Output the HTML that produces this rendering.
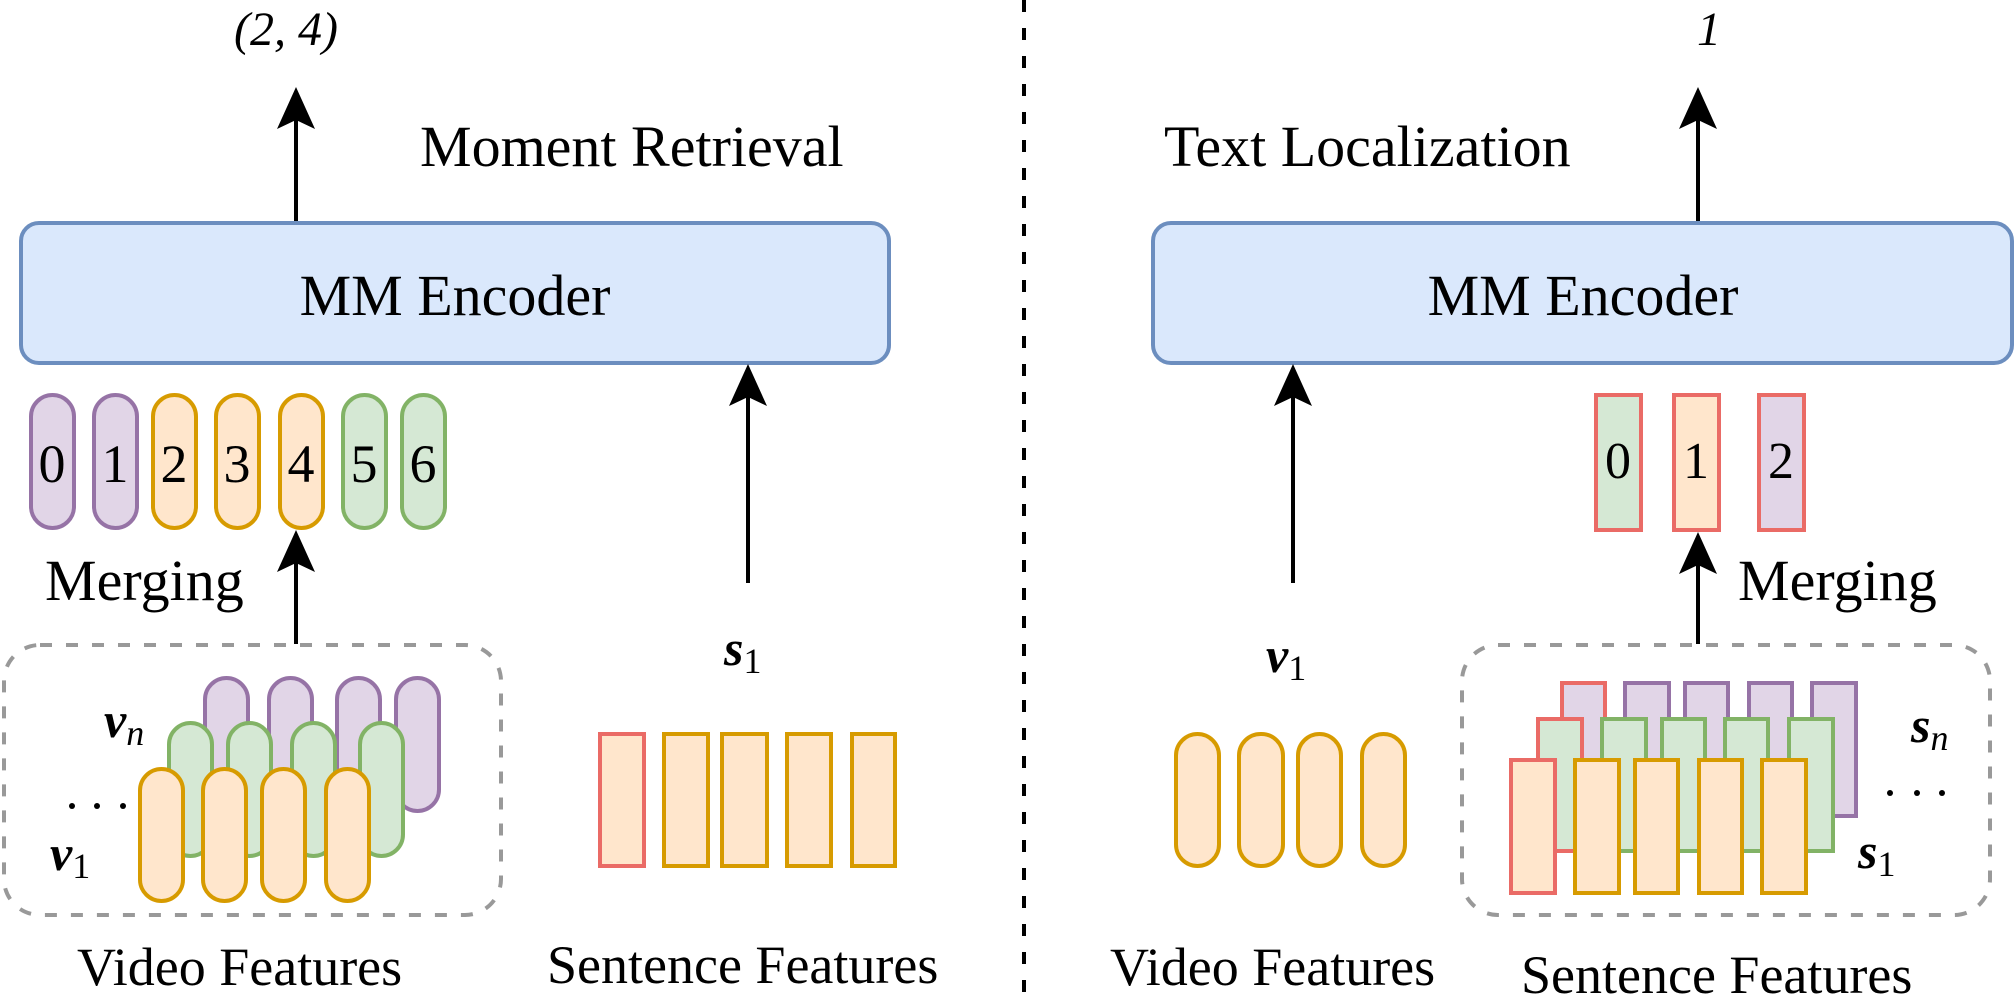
<!DOCTYPE html>
<html><head><meta charset="utf-8"><style>
html,body{margin:0;padding:0;background:#fff;}
svg{display:block;}
text{font-family:"Liberation Serif",serif;fill:#000;}
</style></head><body>
<svg width="2016" height="995" viewBox="0 0 2016 995" xmlns="http://www.w3.org/2000/svg">
<defs>
<g id="ah"><path d="M0,0 L-19,42 L0,33 L19,42 Z" fill="#000"/></g>
</defs>
<!-- divider -->
<line x1="1024" y1="0" x2="1024" y2="995" stroke="#000" stroke-width="4" stroke-dasharray="12,16"/>

<!-- LEFT -->
<text x="234" y="45" font-size="48" font-style="italic">(2, 4)</text>
<line x1="296" y1="222" x2="296" y2="115" stroke="#000" stroke-width="4"/>
<use href="#ah" x="296" y="87"/>
<text x="420" y="166" font-size="58">Moment Retrieval</text>
<rect x="21" y="223" width="868" height="140" rx="18" fill="#dae8fc" stroke="#6c8ebf" stroke-width="4"/>
<text x="455" y="315" font-size="58" text-anchor="middle">MM Encoder</text>

<g stroke-width="4">
<rect x="31" y="395" width="43" height="133" rx="21.5" fill="#e1d5e7" stroke="#9673a6"/>
<rect x="94" y="395" width="43" height="133" rx="21.5" fill="#e1d5e7" stroke="#9673a6"/>
<rect x="153" y="395" width="43" height="133" rx="21.5" fill="#ffe6cc" stroke="#d79b00"/>
<rect x="216" y="395" width="43" height="133" rx="21.5" fill="#ffe6cc" stroke="#d79b00"/>
<rect x="280" y="395" width="43" height="133" rx="21.5" fill="#ffe6cc" stroke="#d79b00"/>
<rect x="343" y="395" width="43" height="133" rx="21.5" fill="#d5e8d4" stroke="#82b366"/>
<rect x="402" y="395" width="43" height="133" rx="21.5" fill="#d5e8d4" stroke="#82b366"/>
</g>
<g font-size="54" text-anchor="middle">
<text x="52" y="482">0</text><text x="115" y="482">1</text><text x="174" y="482">2</text>
<text x="237" y="482">3</text><text x="301" y="482">4</text><text x="364" y="482">5</text><text x="423" y="482">6</text>
</g>
<text x="45" y="600" font-size="58">Merging</text>
<line x1="296" y1="644" x2="296" y2="560" stroke="#000" stroke-width="4"/>
<use href="#ah" x="296" y="530"/>

<rect x="4" y="645" width="497" height="270" rx="36" fill="none" stroke="#999" stroke-width="4" stroke-dasharray="12,14"/>
<g stroke-width="4">
<rect x="205" y="678" width="43" height="133" rx="21.5" fill="#e1d5e7" stroke="#9673a6"/>
<rect x="269" y="678" width="43" height="133" rx="21.5" fill="#e1d5e7" stroke="#9673a6"/>
<rect x="337" y="678" width="43" height="133" rx="21.5" fill="#e1d5e7" stroke="#9673a6"/>
<rect x="396" y="678" width="43" height="133" rx="21.5" fill="#e1d5e7" stroke="#9673a6"/>
<rect x="169" y="723" width="43" height="133" rx="21.5" fill="#d5e8d4" stroke="#82b366"/>
<rect x="228" y="723" width="43" height="133" rx="21.5" fill="#d5e8d4" stroke="#82b366"/>
<rect x="292" y="723" width="43" height="133" rx="21.5" fill="#d5e8d4" stroke="#82b366"/>
<rect x="360" y="723" width="43" height="133" rx="21.5" fill="#d5e8d4" stroke="#82b366"/>
<rect x="140" y="769" width="43" height="132" rx="21.5" fill="#ffe6cc" stroke="#d79b00"/>
<rect x="203" y="769" width="43" height="132" rx="21.5" fill="#ffe6cc" stroke="#d79b00"/>
<rect x="262" y="769" width="43" height="132" rx="21.5" fill="#ffe6cc" stroke="#d79b00"/>
<rect x="326" y="769" width="43" height="132" rx="21.5" fill="#ffe6cc" stroke="#d79b00"/>
</g>
<text x="104" y="737" font-size="50" font-style="italic" font-weight="bold">v<tspan font-size="36" font-weight="normal" dy="8">n</tspan></text>
<circle cx="72" cy="806" r="3"/><circle cx="97" cy="806" r="3"/><circle cx="123" cy="806" r="3"/>
<text x="50" y="870" font-size="50" font-style="italic" font-weight="bold">v<tspan font-size="36" font-weight="normal" font-style="normal" dy="8">1</tspan></text>
<text x="77" y="985" font-size="54">Video Features</text>

<line x1="748" y1="583" x2="748" y2="394" stroke="#000" stroke-width="4"/>
<use href="#ah" x="748" y="364"/>
<text x="724" y="665" font-size="50" font-style="italic" font-weight="bold">s<tspan font-size="36" font-weight="normal" font-style="normal" dy="8">1</tspan></text>
<g stroke-width="4" fill="#ffe6cc">
<rect x="600" y="734" width="44" height="132" stroke="#ea6b66"/>
<rect x="664" y="734" width="44" height="132" stroke="#d79b00"/>
<rect x="722" y="734" width="45" height="132" stroke="#d79b00"/>
<rect x="787" y="734" width="44" height="132" stroke="#d79b00"/>
<rect x="852" y="734" width="43" height="132" stroke="#d79b00"/>
</g>
<text x="547" y="983" font-size="54">Sentence Features</text>

<!-- RIGHT -->
<text x="1697" y="45" font-size="48" font-style="italic">1</text>
<line x1="1698" y1="222" x2="1698" y2="115" stroke="#000" stroke-width="4"/>
<use href="#ah" x="1698" y="87"/>
<text x="1164" y="166" font-size="58">Text Localization</text>
<rect x="1153" y="223" width="859" height="140" rx="18" fill="#dae8fc" stroke="#6c8ebf" stroke-width="4"/>
<text x="1583" y="315" font-size="58" text-anchor="middle">MM Encoder</text>

<line x1="1293" y1="583" x2="1293" y2="394" stroke="#000" stroke-width="4"/>
<use href="#ah" x="1293" y="364"/>
<text x="1266" y="672" font-size="50" font-style="italic" font-weight="bold">v<tspan font-size="36" font-weight="normal" font-style="normal" dy="8">1</tspan></text>
<g stroke-width="4" fill="#ffe6cc" stroke="#d79b00">
<rect x="1176" y="734" width="43" height="132" rx="21.5"/>
<rect x="1239" y="734" width="44" height="132" rx="21.5"/>
<rect x="1298" y="734" width="43" height="132" rx="21.5"/>
<rect x="1362" y="734" width="43" height="132" rx="21.5"/>
</g>
<text x="1110" y="985" font-size="54">Video Features</text>

<g stroke-width="4" stroke="#ea6b66">
<rect x="1596" y="395" width="45" height="135" fill="#d5e8d4"/>
<rect x="1674" y="395" width="45" height="135" fill="#ffe6cc"/>
<rect x="1759" y="395" width="45" height="135" fill="#e1d5e7"/>
</g>
<g font-size="52" text-anchor="middle">
<text x="1618" y="478">0</text><text x="1696" y="478">1</text><text x="1781" y="478">2</text>
</g>
<line x1="1698" y1="644" x2="1698" y2="562" stroke="#000" stroke-width="4"/>
<use href="#ah" x="1698" y="532"/>
<text x="1738" y="600" font-size="58">Merging</text>

<rect x="1462" y="645" width="528" height="270" rx="36" fill="none" stroke="#999" stroke-width="4" stroke-dasharray="12,14"/>
<g stroke-width="4">
<rect x="1562" y="683" width="43" height="133" fill="#e1d5e7" stroke="#ea6b66"/>
<rect x="1625" y="683" width="44" height="133" fill="#e1d5e7" stroke="#9673a6"/>
<rect x="1685" y="683" width="43" height="133" fill="#e1d5e7" stroke="#9673a6"/>
<rect x="1749" y="683" width="43" height="133" fill="#e1d5e7" stroke="#9673a6"/>
<rect x="1812" y="683" width="44" height="133" fill="#e1d5e7" stroke="#9673a6"/>
<rect x="1538" y="719" width="44" height="132" fill="#d5e8d4" stroke="#ea6b66"/>
<rect x="1602" y="719" width="44" height="132" fill="#d5e8d4" stroke="#82b366"/>
<rect x="1662" y="719" width="43" height="132" fill="#d5e8d4" stroke="#82b366"/>
<rect x="1725" y="719" width="43" height="132" fill="#d5e8d4" stroke="#82b366"/>
<rect x="1789" y="719" width="44" height="132" fill="#d5e8d4" stroke="#82b366"/>
<rect x="1511" y="760" width="44" height="133" fill="#ffe6cc" stroke="#ea6b66"/>
<rect x="1575" y="760" width="44" height="133" fill="#ffe6cc" stroke="#d79b00"/>
<rect x="1635" y="760" width="43" height="133" fill="#ffe6cc" stroke="#d79b00"/>
<rect x="1699" y="760" width="43" height="133" fill="#ffe6cc" stroke="#d79b00"/>
<rect x="1762" y="760" width="44" height="133" fill="#ffe6cc" stroke="#d79b00"/>
</g>
<text x="1911" y="742" font-size="50" font-style="italic" font-weight="bold">s<tspan font-size="36" font-weight="normal" dy="8">n</tspan></text>
<circle cx="1890" cy="793" r="3"/><circle cx="1917" cy="793" r="3"/><circle cx="1942" cy="793" r="3"/>
<text x="1858" y="868" font-size="50" font-style="italic" font-weight="bold">s<tspan font-size="36" font-weight="normal" font-style="normal" dy="8">1</tspan></text>
<text x="1521" y="993" font-size="54">Sentence Features</text>
</svg>
</body></html>
